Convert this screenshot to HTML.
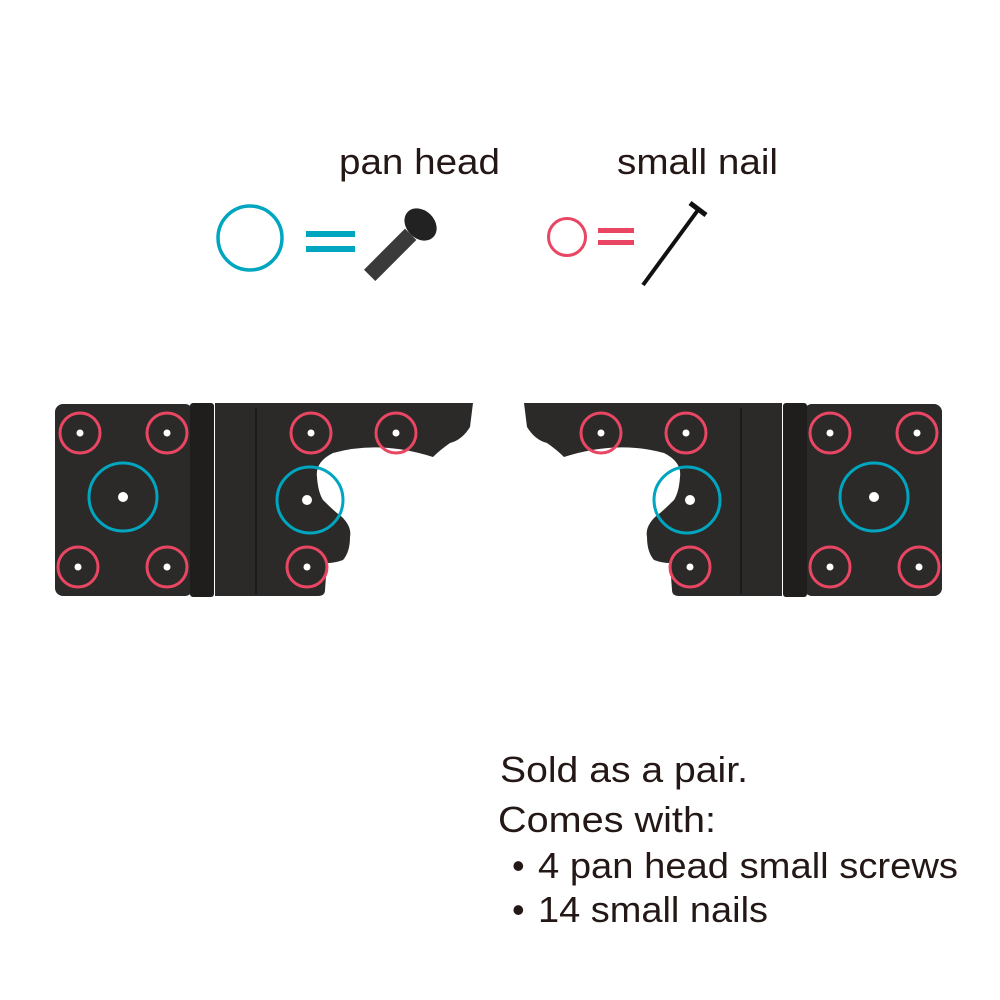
<!DOCTYPE html>
<html><head><meta charset="utf-8"><style>
html,body{margin:0;padding:0;background:#fff}
svg{display:block}
text{font-family:"Liberation Sans",sans-serif;fill:#231815}
</style></head><body>
<svg width="1000" height="1000" viewBox="0 0 1000 1000">
<text x="339" y="174" font-size="36" textLength="161" lengthAdjust="spacingAndGlyphs">pan head</text>
<text x="617" y="174" font-size="36" textLength="161" lengthAdjust="spacingAndGlyphs">small nail</text>
<circle cx="250" cy="238" r="32" fill="none" stroke="#00a5bf" stroke-width="3.5"/>
<rect x="306" y="231" width="49" height="6" fill="#00a5bf"/>
<rect x="306" y="246" width="49" height="6" fill="#00a5bf"/>
<circle cx="567" cy="237" r="18.5" fill="none" stroke="#e84662" stroke-width="3"/>
<rect x="598" y="228" width="36" height="5" fill="#e84662"/>
<rect x="598" y="240" width="36" height="5" fill="#e84662"/>
<g transform="translate(405,240) rotate(45)">
<rect x="-8" y="-8" width="16" height="58" fill="#3a3a3a"/>
<ellipse cx="0" cy="-22" rx="18" ry="14" fill="#222"/>
</g>
<line x1="698" y1="210" x2="643" y2="285" stroke="#111" stroke-width="4"/>
<line x1="690" y1="203" x2="706" y2="215" stroke="#111" stroke-width="5"/>

<g id="h">
<rect x="55" y="404" width="138" height="192" rx="8" fill="#2b2a29"/>
<rect x="190" y="403" width="24" height="194" rx="3" fill="#1f1e1d"/>
<path d="M215 403 L473 403 L470 427 Q462 440 450 443 Q440 450 433 457 Q380 440 333 453 Q315 462 317 477 Q318 492 323 500 Q335 512 342 517 Q352 527 350 537 Q350 552 343 560 Q335 563 327 563 L325 590 Q325 596 318 596 L215 596 Z" fill="#2b2a29"/>
<line x1="256" y1="408" x2="256" y2="594" stroke="#1a1a1a" stroke-width="2"/>
<g fill="#fff"><circle cx="80" cy="433" r="3.5"/><circle cx="167" cy="433" r="3.5"/><circle cx="78" cy="567" r="3.5"/><circle cx="167" cy="567" r="3.5"/><circle cx="123" cy="497" r="5"/>
<circle cx="311" cy="433" r="3.5"/><circle cx="396" cy="433" r="3.5"/><circle cx="307" cy="567" r="3.5"/><circle cx="307" cy="500" r="5"/></g>
<g fill="none" stroke="#e84662" stroke-width="3"><circle cx="80" cy="433" r="20"/><circle cx="167" cy="433" r="20"/><circle cx="78" cy="567" r="20"/><circle cx="167" cy="567" r="20"/>
<circle cx="311" cy="433" r="20"/><circle cx="396" cy="433" r="20"/><circle cx="307" cy="567" r="20"/></g>
<g fill="none" stroke="#00a5bf" stroke-width="3"><circle cx="123" cy="497" r="34"/><circle cx="310" cy="500" r="33"/></g>
</g>
<use href="#h" transform="translate(997,0) scale(-1,1)"/>

<text x="500" y="782" font-size="36" textLength="248" lengthAdjust="spacingAndGlyphs">Sold as a pair.</text>
<text x="498" y="832" font-size="36" textLength="218" lengthAdjust="spacingAndGlyphs">Comes with:</text>
<text x="512" y="878" font-size="36">•</text>
<text x="538" y="878" font-size="36" textLength="420" lengthAdjust="spacingAndGlyphs">4 pan head small screws</text>
<text x="512" y="922" font-size="36">•</text>
<text x="538" y="922" font-size="36" textLength="230" lengthAdjust="spacingAndGlyphs">14 small nails</text>
</svg>
</body></html>
